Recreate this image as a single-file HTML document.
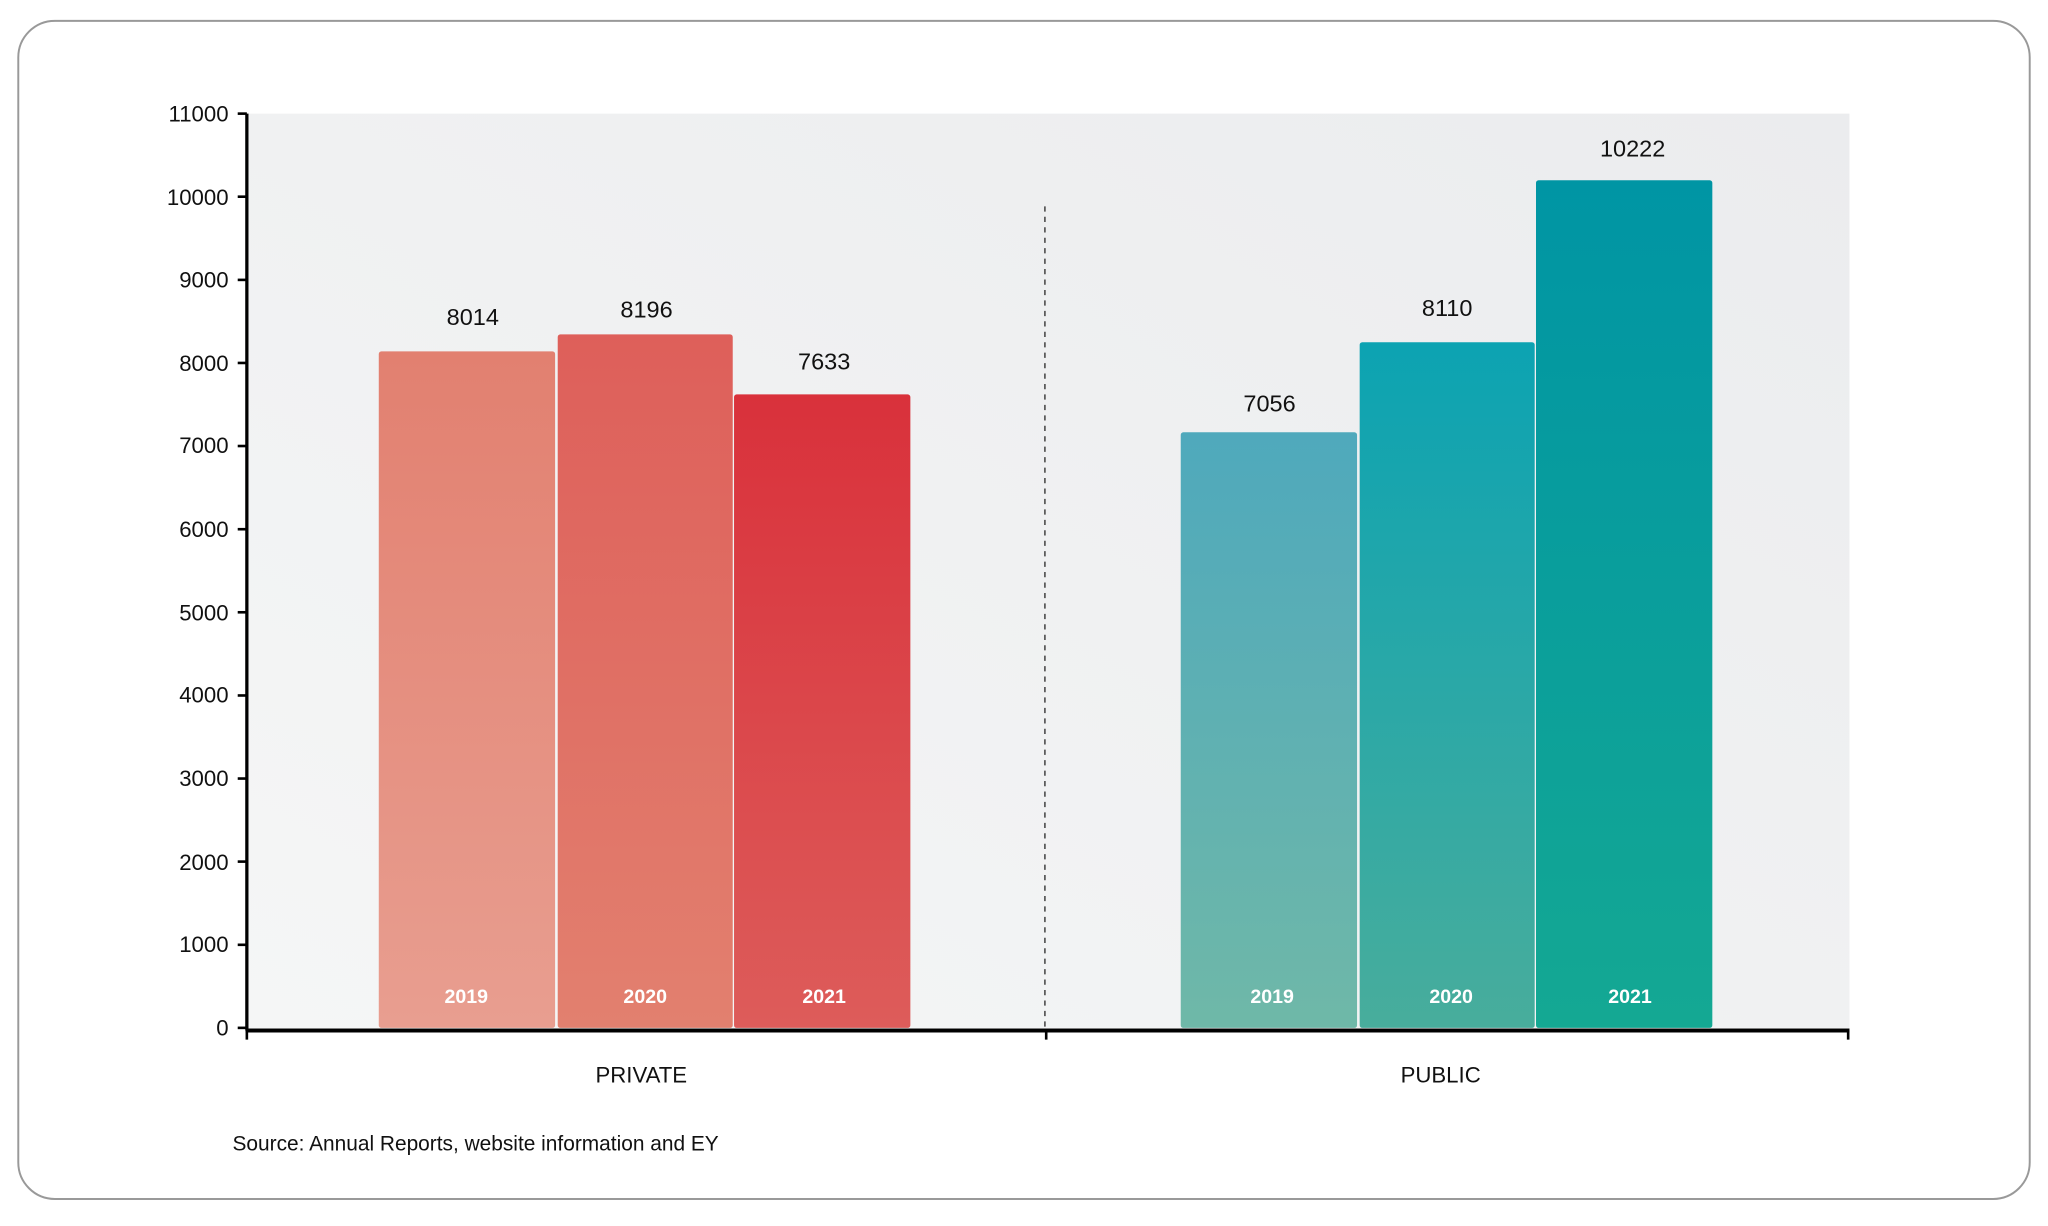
<!DOCTYPE html>
<html><head><meta charset="utf-8"><style>
html,body{margin:0;padding:0;background:#fff;}
svg{display:block;}
text{font-family:"Liberation Sans",sans-serif;}
</style></head><body>
<svg width="2048" height="1226" viewBox="0 0 1568 938.7" preserveAspectRatio="none" xmlns="http://www.w3.org/2000/svg">
<defs>
<linearGradient id="bg" x1="0" y1="1" x2="1" y2="0"><stop offset="0" stop-color="#f5f6f6"/><stop offset="1" stop-color="#ebecee"/></linearGradient>
<linearGradient id="r1" x1="0" y1="0" x2="0" y2="1"><stop offset="0" stop-color="#e28070"/><stop offset="1" stop-color="#e89e90"/></linearGradient>
<linearGradient id="r2" x1="0" y1="0" x2="0" y2="1"><stop offset="0" stop-color="#de5f5a"/><stop offset="1" stop-color="#e2806f"/></linearGradient>
<linearGradient id="r3" x1="0" y1="0" x2="0" y2="1"><stop offset="0" stop-color="#d9313b"/><stop offset="1" stop-color="#dd5c5a"/></linearGradient>
<linearGradient id="p1" x1="0" y1="0" x2="0" y2="1"><stop offset="0" stop-color="#4fa9bc"/><stop offset="1" stop-color="#6fb8a8"/></linearGradient>
<linearGradient id="p2" x1="0" y1="0" x2="0" y2="1"><stop offset="0" stop-color="#0ca3b2"/><stop offset="1" stop-color="#48ad9c"/></linearGradient>
<linearGradient id="p3" x1="0" y1="0" x2="0" y2="1"><stop offset="0" stop-color="#0095a4"/><stop offset="1" stop-color="#14a893"/></linearGradient>
</defs>
<rect x="14" y="16" width="1540" height="902" rx="28" fill="#fff" stroke="#999" stroke-width="1.5"/>
<rect x="189" y="87" width="1227" height="700" fill="url(#bg)"/>
<line x1="800" y1="158" x2="800" y2="787" stroke="#555" stroke-width="1.3" stroke-dasharray="4,4"/>
<rect x="290" y="269" width="135" height="518" fill="url(#r1)" rx="2"/>
<rect x="427" y="256" width="134" height="531" fill="url(#r2)" rx="2"/>
<rect x="562" y="302" width="135" height="485" fill="url(#r3)" rx="2"/>
<rect x="904" y="331" width="135" height="456" fill="url(#p1)" rx="2"/>
<rect x="1041" y="262" width="134" height="525" fill="url(#p2)" rx="2"/>
<rect x="1176" y="138" width="135" height="649" fill="url(#p3)" rx="2"/>
<g font-size="18" fill="#111" text-anchor="middle">
<text x="362" y="249">8014</text><text x="495" y="243">8196</text><text x="631" y="283">7633</text>
<text x="972" y="315">7056</text><text x="1108" y="242">8110</text><text x="1250" y="120">10222</text>
</g>
<g font-size="15" font-weight="bold" fill="#fff" text-anchor="middle">
<text x="357" y="768">2019</text><text x="494" y="768">2020</text><text x="631" y="768">2021</text>
<text x="974" y="768">2019</text><text x="1111" y="768">2020</text><text x="1248" y="768">2021</text>
</g>
<line x1="189" y1="87" x2="189" y2="789" stroke="#000" stroke-width="2.5"/>
<line x1="188" y1="789" x2="1416" y2="789" stroke="#000" stroke-width="3"/>
<g stroke="#000" stroke-width="2"><line x1="189" y1="789" x2="189" y2="796"/><line x1="801" y1="789" x2="801" y2="796"/><line x1="1415" y1="789" x2="1415" y2="796"/></g>
<g stroke="#000" stroke-width="2">
<line x1="182" y1="87" x2="189" y2="87"/><line x1="182" y1="150.6" x2="189" y2="150.6"/><line x1="182" y1="214.3" x2="189" y2="214.3"/><line x1="182" y1="277.9" x2="189" y2="277.9"/><line x1="182" y1="341.5" x2="189" y2="341.5"/><line x1="182" y1="405.2" x2="189" y2="405.2"/><line x1="182" y1="468.8" x2="189" y2="468.8"/><line x1="182" y1="532.5" x2="189" y2="532.5"/><line x1="182" y1="596.1" x2="189" y2="596.1"/><line x1="182" y1="659.7" x2="189" y2="659.7"/><line x1="182" y1="723.4" x2="189" y2="723.4"/><line x1="182" y1="787" x2="189" y2="787"/>
</g>
<g font-size="17" fill="#111" text-anchor="end">
<text x="175" y="93">11000</text><text x="175" y="157">10000</text><text x="175" y="220">9000</text><text x="175" y="284">8000</text><text x="175" y="347">7000</text><text x="175" y="411">6000</text><text x="175" y="475">5000</text><text x="175" y="538">4000</text><text x="175" y="602">3000</text><text x="175" y="666">2000</text><text x="175" y="729">1000</text><text x="175" y="793">0</text>
</g>
<g font-size="17" fill="#111" text-anchor="middle"><text x="491" y="829">PRIVATE</text><text x="1103" y="829">PUBLIC</text></g>
<text x="178" y="881" font-size="16" fill="#111">Source: Annual Reports, website information and EY</text>
</svg>
</body></html>
